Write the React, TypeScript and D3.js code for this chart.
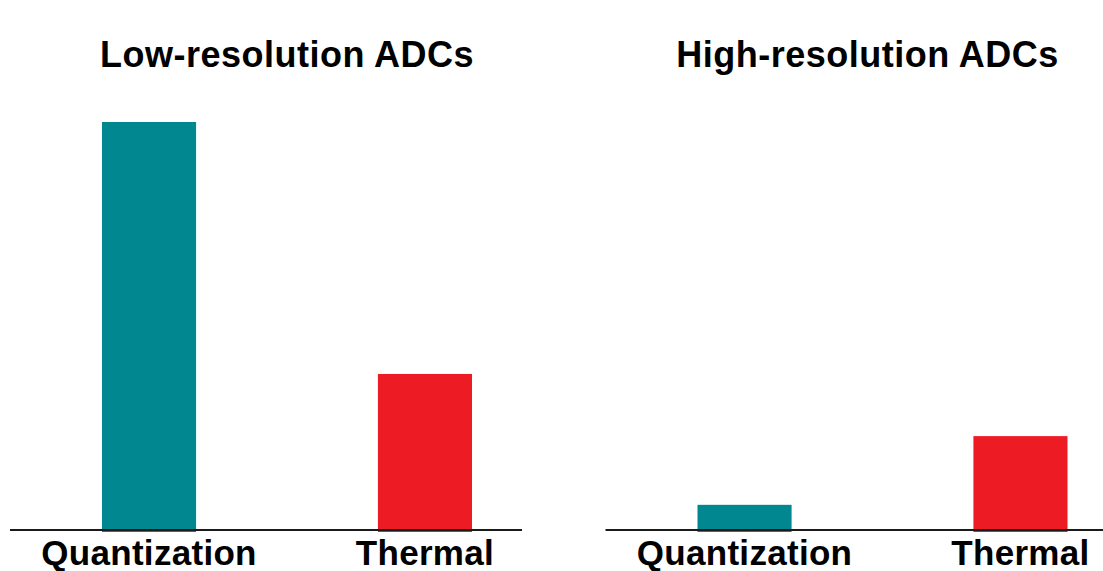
import React, { useEffect, useRef } from 'react';
import * as d3 from 'd3';

const panels = ['Low-resolution ADCs', 'High-resolution ADCs'];
const categories = ['Quantization', 'Thermal'];
// noise power per panel, same order as categories
const lowResValues = [10, 3.84];
const highResValues = [0.64, 2.32];
const barColors = ['#00878F', '#ED1C24'];

export default function App() {
  const svgRef = useRef<SVGSVGElement>(null);

  useEffect(() => {
    if (!svgRef.current) return;
    const svg = d3.select(svgRef.current);
    svg.selectAll('*').remove();

    const width = 1103;
    const height = 571;
    const panelWidth = 512;
    const panelOffsets = [10, 605.5];
    const titleShift = [0, -15];
    const baseline = 531;
    const font = '"Liberation Sans", Arial, Helvetica, sans-serif';

    const x = d3.scaleBand<string>()
      .domain(categories)
      .range([92, 462])
      .paddingInner(0.659)
      .paddingOuter(0);

    const y = d3.scaleLinear()
      .domain([0, 10])
      .range([baseline, 122]);

    const color = d3.scaleOrdinal<string, string>()
      .domain(categories)
      .range(barColors);

    const allValues = [lowResValues, highResValues];

    svg.attr('width', width).attr('height', height);

    panels.forEach((title, i) => {
      const g = svg.append('g')
        .attr('transform', `translate(${panelOffsets[i]}, 0)`);

      const data = categories.map((c, j) => ({ category: c, value: allValues[i][j] }));

      g.selectAll('rect')
        .data(data)
        .enter()
        .append('rect')
        .attr('x', d => x(d.category)!)
        .attr('y', d => y(d.value))
        .attr('width', x.bandwidth())
        .attr('height', d => y(0) - y(d.value) + 1)
        .attr('fill', d => color(d.category));

      // baseline axis
      g.append('line')
        .attr('x1', 0)
        .attr('x2', panelWidth)
        .attr('y1', baseline - 1)
        .attr('y2', baseline - 1)
        .attr('stroke', '#1a1a1a')
        .attr('stroke-width', 2);

      // category labels
      g.selectAll('.cat-label')
        .data(categories)
        .enter()
        .append('text')
        .attr('class', 'cat-label')
        .attr('x', d => x(d)! + x.bandwidth() / 2)
        .attr('y', 565)
        .attr('text-anchor', 'middle')
        .attr('font-family', font)
        .attr('font-weight', 'bold')
        .attr('font-size', '35px')
        .attr('letter-spacing', '0.3px')
        .attr('fill', '#000')
        .text(d => d);

      // panel title
      const cx = x(categories[0])! + (x(categories[1])! + x.bandwidth() - x(categories[0])!) / 2;
      g.append('text')
        .attr('x', cx + titleShift[i])
        .attr('y', 67)
        .attr('text-anchor', 'middle')
        .attr('font-family', font)
        .attr('font-weight', 'bold')
        .attr('font-size', '36px')
        .attr('letter-spacing', '0.5px')
        .attr('fill', '#000')
        .text(title);
    });
  }, []);

  return (
    <div style={{ position: 'absolute', left: 0, top: 0, background: '#fff' }}>
      <svg ref={svgRef} style={{ display: 'block' }} />
    </div>
  );
}
